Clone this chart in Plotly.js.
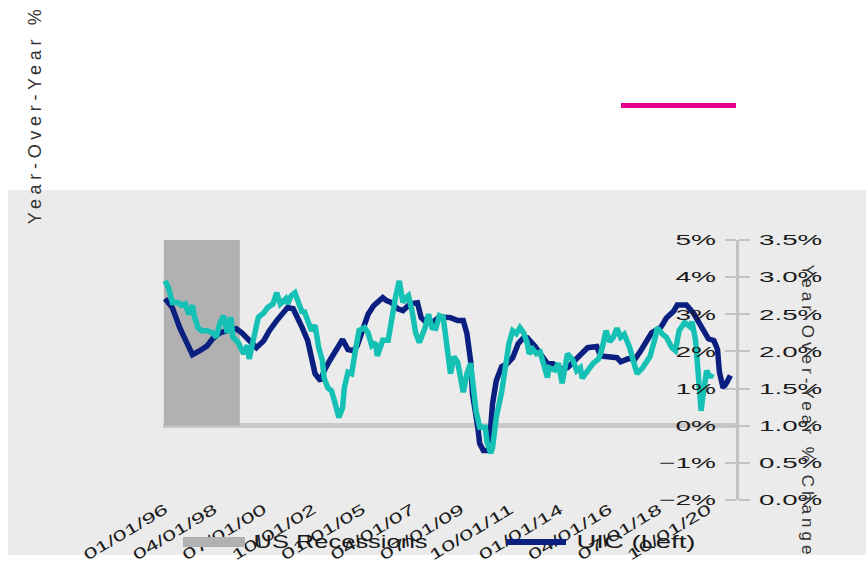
<!DOCTYPE html>
<html>
<head>
<meta charset="utf-8">
<script src="https://cdn.plot.ly/plotly-3.0.1.min.js"></script>
<style>
  html, body { margin: 0; padding: 0; background: #ffffff; }
  #chart { width: 866px; height: 562px; }
</style>
</head>
<body>
<div id="chart"></div>
<script>
// ---------- data ----------
const recessionStart = ['1995-12-12'];
const recessionEnd   = ['1999-05-28'];
const recessionValue = [5.1];

const uicDates = ['1996-01','1996-05','1996-09','1996-12','1997-03','1997-04','1997-08','1997-12','1998-03','1998-07',
  '1998-11','1999-04','1999-07','1999-10','2000-01','2000-03','2000-07','2000-10','2001-02','2001-06',
  '2001-08','2001-11','2002-01','2002-04','2002-07','2002-09','2002-11','2003-02','2003-04','2003-07',
  '2003-11','2004-02','2004-05','2004-08','2004-10','2005-01','2005-04','2005-07','2005-12','2006-02',
  '2006-05','2006-08','2006-11','2007-03','2007-07','2007-09','2007-12','2008-03','2008-07','2009-01',
  '2009-05','2009-08','2009-10','2009-12','2010-01','2010-04','2010-05','2010-07','2010-10','2010-12',
  '2011-02','2011-05','2011-08','2011-11','2012-02','2012-05','2012-07','2012-11','2013-02','2013-06',
  '2013-09','2014-01','2014-05','2014-08','2014-12','2015-04','2015-09','2015-11','2016-08','2016-10',
  '2017-02','2017-06','2017-09','2017-12','2018-03','2018-08','2018-11','2019-03','2019-05','2019-10',
  '2020-02','2020-05','2020-08','2020-10','2021-01','2021-03','2021-04','2021-06','2021-08','2021-10'];
const uicValues = [3.42,3.18,2.64,2.29,2.02,1.91,2.02,2.15,2.34,2.50,
  2.56,2.61,2.50,2.34,2.15,2.10,2.29,2.56,2.83,3.10,
  3.18,3.15,2.96,2.64,2.29,1.83,1.40,1.21,1.48,1.75,
  2.07,2.32,2.05,2.02,2.15,2.56,3.00,3.23,3.45,3.37,
  3.31,3.15,3.10,3.28,3.31,2.91,2.77,2.77,2.93,2.91,
  2.83,2.83,2.48,1.75,0.86,-0.05,-0.48,-0.67,-0.67,0.59,
  1.21,1.59,1.67,1.83,2.21,2.37,2.37,2.15,1.94,1.67,
  1.67,1.53,1.56,1.70,1.88,2.10,2.13,1.88,1.83,1.72,
  1.80,1.80,2.02,2.29,2.50,2.65,2.90,3.08,3.25,3.25,
  3.02,2.76,2.50,2.34,2.29,2.05,1.45,1.02,1.16,1.35];

const rightDates = ['1996-01','1996-03','1996-05','1996-08','1996-10','1996-12','1997-02','1997-04','1997-05','1997-07',
  '1997-09','1997-12','1998-03','1998-05','1998-07','1998-09','1998-11','1999-01','1999-02','1999-05',
  '1999-08','1999-10','1999-11','2000-01','2000-04','2000-07','2000-09','2000-12','2001-02','2001-04',
  '2001-07','2001-08','2001-10','2001-12','2002-02','2002-04','2002-05','2002-07','2002-09','2002-11',
  '2003-01','2003-03','2003-04','2003-06','2003-08','2003-10','2003-12','2004-02','2004-03','2004-05',
  '2004-07','2004-09','2004-11','2005-02','2005-04','2005-06','2005-08','2005-09','2005-12','2006-03',
  '2006-05','2006-07','2006-09','2006-11','2007-01','2007-02','2007-04','2007-06','2007-08','2007-11',
  '2008-01','2008-03','2008-05','2008-07','2008-09','2008-11','2009-01','2009-03','2009-05','2009-08',
  '2009-10','2009-12','2010-02','2010-03','2010-05','2010-08','2010-09','2010-11','2010-12','2011-02',
  '2011-05','2011-08','2011-09','2011-11','2012-01','2012-03','2012-05','2012-07','2012-08','2012-10',
  '2012-12','2013-02','2013-04','2013-06','2013-07','2013-10','2013-12','2014-02','2014-05','2014-08',
  '2014-10','2014-12','2015-01','2015-04','2015-07','2015-10','2015-12','2016-02','2016-04','2016-06',
  '2016-08','2016-10','2016-12','2017-03','2017-05','2017-07','2017-10','2017-12','2018-02','2018-05',
  '2018-06','2018-09','2018-11','2019-02','2019-04','2019-06','2019-09','2019-12','2020-01','2020-03',
  '2020-04','2020-05','2020-06','2020-07','2020-09','2020-11','2020-12'];
const rightValues = [2.95,2.85,2.66,2.66,2.62,2.64,2.50,2.62,2.48,2.32,
  2.28,2.28,2.25,2.19,2.38,2.48,2.25,2.46,2.19,2.12,
  1.97,2.08,1.90,2.11,2.46,2.52,2.59,2.64,2.79,2.64,
  2.71,2.64,2.75,2.79,2.64,2.52,2.55,2.39,2.28,2.35,
  2.05,1.88,1.64,1.51,1.47,1.30,1.11,1.24,1.51,1.72,
  1.70,2.01,2.28,2.32,2.25,2.08,2.12,1.94,2.15,2.15,
  2.46,2.73,2.95,2.66,2.73,2.75,2.55,2.25,2.12,2.31,
  2.50,2.32,2.31,2.48,2.46,2.13,1.70,1.93,1.85,1.45,
  1.70,1.84,1.43,1.20,0.98,0.98,0.78,0.63,0.70,1.11,
  1.45,1.94,2.11,2.28,2.24,2.32,2.25,2.11,1.97,2.03,
  1.97,1.99,1.84,1.65,1.78,1.75,1.84,1.57,1.97,1.88,
  1.74,1.78,1.64,1.74,1.84,1.90,2.05,2.28,2.13,2.19,
  2.31,2.19,2.23,2.05,1.84,1.70,1.78,1.85,1.93,2.19,
  2.32,2.23,2.19,2.05,2.01,2.28,2.39,2.33,2.40,2.15,
  1.74,1.45,1.20,1.40,1.74,1.65,1.70];

const xTickStart = '1996-01-01';
const leftTitle = 'Year-Over-Year %';
const rightTitle = 'Year-Over-Year % Change';
const legendNames = ['US Recessions', 'UIC (Left)'];

// ---------- styles ----------
const NAVY = '#0A1F80';
const TEAL = '#14C1B4';
const GREY = '#B1B1B1';
const MAGENTA = '#E4008C';
const BG = '#EBEBEB';
const AXIS = '#C2C2C2';
const FONT = 'Liberation Sans, Arial, sans-serif';

// pixel -> paper helpers (plot area: x 163..737, y 240..500)
const PL = 163, PR = 737, PT = 240, PB = 500;
const px = v => (v - PL) / (PR - PL);
const py = v => (PB - v) / (PB - PT);

const recCenter = recessionStart.map((s, i) => new Date((Date.parse(s) + Date.parse(recessionEnd[i])) / 2).toISOString());
const recWidth = recessionStart.map((s, i) => Date.parse(recessionEnd[i]) - Date.parse(s));

const traces = [
  { type: 'bar', x: recCenter, y: recessionValue, width: recWidth, marker: { color: GREY, line: { width: 0 } },
    name: legendNames[0], yaxis: 'y', showlegend: false, hoverinfo: 'skip', cliponaxis: false },
  { type: 'scatter', mode: 'lines', x: uicDates, y: uicValues, name: legendNames[1],
    line: { color: NAVY, width: 5.5 }, yaxis: 'y', showlegend: false },
  { type: 'scatter', mode: 'lines', x: rightDates, y: rightValues, name: 'Right',
    line: { color: TEAL, width: 5.5 }, yaxis: 'y2', showlegend: false }
];

const tickFont = { family: FONT, size: 15, color: '#1a1a1a' };

const layout = {
  width: 866, height: 562,
  margin: { l: PL, r: 866 - PR, t: PT, b: 562 - PB, pad: 0 },
  paper_bgcolor: '#ffffff',
  plot_bgcolor: BG,
  showlegend: false,
  barcornerradius: 3,
  xaxis: {
    type: 'date', range: ['1995-11-28', '2022-01-19'],
    tick0: xTickStart, dtick: 'M27', tickformat: '%m/%d/%y', tickangle: -31,
    showgrid: false, zeroline: false, showline: false, ticks: '',
    ticklabelstandoff: -3,
    tickfont: tickFont, automargin: false
  },
  yaxis: {
    range: [-2, 5], dtick: 1, ticksuffix: '%',
    side: 'left', anchor: 'free', position: 1,
    showgrid: false, zeroline: true, zerolinecolor: '#C8C8C8', zerolinewidth: 5,
    showline: true, linecolor: AXIS, linewidth: 2,
    ticks: 'outside', ticklen: 11, tickwidth: 2, tickcolor: AXIS, ticklabelstandoff: 6,
    tickfont: tickFont, automargin: false
  },
  yaxis2: {
    range: [0, 3.5], dtick: 0.5, tickformat: '.1f', ticksuffix: '%',
    overlaying: 'y', side: 'right', anchor: 'x',
    showgrid: false, zeroline: false,
    showline: true, linecolor: AXIS, linewidth: 2,
    ticks: 'outside', ticklen: 11, tickwidth: 2, tickcolor: AXIS, ticklabelstandoff: 6,
    tickfont: tickFont, automargin: false
  },
  shapes: [
    { type: 'rect', xref: 'paper', yref: 'paper', x0: px(8), x1: px(866), y0: py(555), y1: py(190),
      fillcolor: BG, line: { width: 0 }, layer: 'below' },
    { type: 'rect', xref: 'paper', yref: 'paper', x0: px(183), x1: px(245), y0: py(547), y1: py(537),
      fillcolor: GREY, line: { width: 0 } },
    { type: 'line', xref: 'paper', yref: 'paper', x0: px(506), x1: px(566), y0: py(542), y1: py(542),
      line: { color: NAVY, width: 6 } },
    { type: 'line', xref: 'paper', yref: 'paper', x0: px(621), x1: px(736), y0: py(105.5), y1: py(105.5),
      line: { color: MAGENTA, width: 5 } }
  ],
  annotations: [
    { text: leftTitle, xref: 'paper', yref: 'paper', x: px(35), y: py(117), textangle: -90,
      showarrow: false, xanchor: 'center', yanchor: 'middle', font: { family: FONT, size: 18, color: '#333333' } },
    { text: rightTitle, xref: 'paper', yref: 'paper', x: px(808), y: py(409), textangle: 90,
      showarrow: false, xanchor: 'center', yanchor: 'middle', font: { family: FONT, size: 17, color: '#333333' } },
    { text: legendNames[0], xref: 'paper', yref: 'paper', x: px(340), y: py(542),
      showarrow: false, xanchor: 'center', yanchor: 'middle', font: { family: FONT, size: 18, color: '#1a1a1a' } },
    { text: legendNames[1], xref: 'paper', yref: 'paper', x: px(635.5), y: py(542),
      showarrow: false, xanchor: 'center', yanchor: 'middle', font: { family: FONT, size: 18, color: '#1a1a1a' } }
  ]
};

// horizontal text stretch to mimic the reference's wide lettering
function scaleAll(sel, f) {
  document.querySelectorAll(sel).forEach(t => {
    t.removeAttribute('textLength');
    const w = t.getComputedTextLength();
    if (w > 0) {
      t.setAttribute('textLength', (w * f).toFixed(1));
      t.setAttribute('lengthAdjust', 'spacingAndGlyphs');
    }
  });
}
function fitAnn(idx, target, adjust) {
  const t = document.querySelector('g.annotation[data-index="' + idx + '"] text.annotation-text');
  if (!t) return;
  t.setAttribute('textLength', target);
  t.setAttribute('lengthAdjust', adjust);
}
function stretchText() {
  scaleAll('.ytick text', 1.87);
  scaleAll('.y2tick text', 1.85);
  document.querySelectorAll('.xtick text').forEach(t => {
    t.setAttribute('textLength', 95);
    t.setAttribute('lengthAdjust', 'spacingAndGlyphs');
  });
  fitAnn(0, 215, 'spacing');
  fitAnn(1, 290, 'spacing');
  fitAnn(2, 174, 'spacingAndGlyphs');
  fitAnn(3, 119, 'spacingAndGlyphs');
}

const gd = document.getElementById('chart');
Plotly.newPlot(gd, traces, layout, { staticPlot: true, displayModeBar: false }).then(() => {
  stretchText();
  gd.on('plotly_afterplot', stretchText);
});
</script>
</body>
</html>
